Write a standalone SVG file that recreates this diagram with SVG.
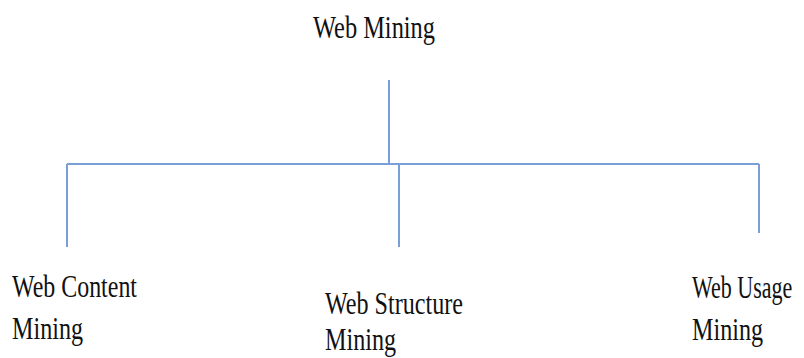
<svg xmlns="http://www.w3.org/2000/svg" width="804" height="358" viewBox="0 0 804 358">
<style>
.t{font-family:"Liberation Serif","Times New Roman",serif;font-size:31px;fill:#111}
.c{stroke:#7a9fd6;stroke-width:2;fill:none}
</style>
<rect width="804" height="358" fill="#fff"/>
<g id="connectors">
<line class="c" x1="389" y1="80" x2="389" y2="164"/>
<line class="c" x1="67" y1="164" x2="759" y2="164"/>
<line class="c" x1="67" y1="164" x2="67" y2="247"/>
<line class="c" x1="399" y1="164" x2="399" y2="247"/>
<line class="c" x1="759" y1="164" x2="759" y2="233"/>
</g>
<g id="web-mining"><text class="t" x="313" y="38" textLength="122" lengthAdjust="spacingAndGlyphs">Web Mining</text></g>
<g id="web-content-mining">
<text class="t" x="12" y="297" textLength="125" lengthAdjust="spacingAndGlyphs">Web Content</text>
<text class="t" x="12" y="339" textLength="71" lengthAdjust="spacingAndGlyphs">Mining</text>
</g>
<g id="web-structure-mining">
<text class="t" x="325" y="314" textLength="138" lengthAdjust="spacingAndGlyphs">Web Structure</text>
<text class="t" x="325" y="350" textLength="71" lengthAdjust="spacingAndGlyphs">Mining</text>
</g>
<g id="web-usage-mining" transform="translate(692,0) scale(0.71,1)">
<text class="t" x="0" y="298">Web Usage</text>
<text class="t" x="0" y="340" textLength="100" lengthAdjust="spacingAndGlyphs">Mining</text>
</g>
</svg>
